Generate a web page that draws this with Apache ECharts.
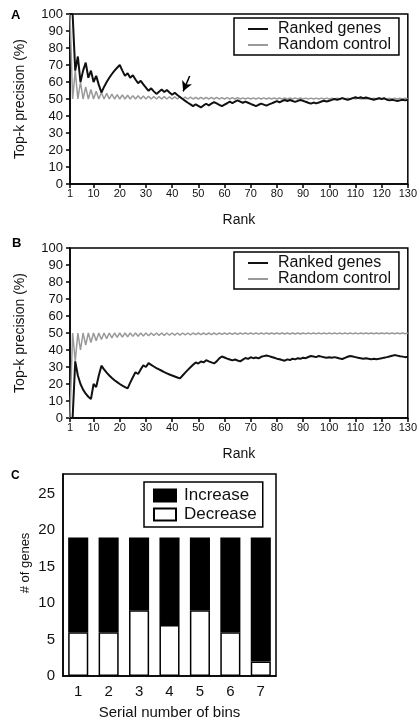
<!DOCTYPE html>
<html>
<head>
<meta charset="utf-8">
<script src="https://cdn.jsdelivr.net/npm/echarts@6/dist/echarts.min.js"></script>
<style>
  html,body{margin:0;padding:0;background:#fff;}
  #chart{width:420px;height:726px;}
</style>
</head>
<body>
<div id="chart"></div>
<script>
/* Top-k precision panels (A, B) and bin counts (C) */

// x tick labels for the rank axes
const rankTicks = [1,10,20,30,40,50,60,70,80,90,100,110,120,130];
const binTicks = [0,5,10,15,20,25];

// panel A, precision per rank 1..130
const rankedA = [
  100,100,66.7,75,60,66.7,71.4,62.5,66.7,60,
  63.6,58.3,53.8,57.1,60,62.5,64.7,66.7,68.4,70,
  66.7,63.6,65.2,62.5,64,61.5,59.3,60.7,58.6,56.7,
  54.8,56.3,54.5,53,54.3,55.6,54.1,55.3,53.8,52.5,
  53.7,52.4,51.2,50,48.9,47.8,46.8,45.8,46.9,46,
  45.1,46.2,47.2,46.3,47.3,48.2,47.4,46.6,45.8,46.7,
  47.5,48.4,47.6,48.4,49.2,48.5,47.8,48.5,47.8,47.1,
  46.5,45.8,46.6,47.3,46.7,46.1,46.8,47.4,48.1,48.8,
  48.1,48.8,49.4,48.8,49.4,48.8,48.3,48.9,49.4,48.9,
  48.4,47.8,47.3,47.9,47.4,47.9,48.5,49,48.5,49,
  49.5,50,49.5,50,50.5,50,49.5,50,50.5,51,
  50.5,51,50.4,50.9,50.4,50,49.6,50,50.4,50,
  50.4,49.6,49.2,49.6,49.2,48.8,49.2,49.6,49.2,49.6
];
const randomA = [
  100,50,66.7,50,60,50,57.1,50,55.6,50,
  54.5,50,53.8,50,53.3,50,52.9,50,52.6,50,
  52.4,50,52.2,50,52,50,51.9,50,51.7,50,
  51.6,50,51.5,50,51.4,50,51.4,50,51.3,50,
  51.2,50,51.2,50,51.1,50,51.1,50,51,50,
  51,50,50.9,50,50.9,50,50.9,50,50.8,50,
  50.8,50,50.8,50,50.8,50,50.7,50,50.7,50,
  50.7,50,50.7,50,50.7,50,50.6,50,50.6,50,
  50.6,50,50.6,50,50.6,50,50.6,50,50.6,50,
  50.5,50,50.5,50,50.5,50,50.5,50,50.5,50,
  50.5,50,50.5,50,50.5,50,50.5,50,50.5,50,
  50.5,50,50.4,50,50.4,50,50.4,50,50.4,50,
  50.4,50,50.4,50,50.4,50,50.4,50,50.4,50
];

// panel B, precision per rank 1..130
const rankedB = [
  0,0,33.3,25,20,16.7,14.3,12.5,11.1,20,
  18.2,25,30.8,28.6,26.7,25,23.5,22.2,21.1,20,
  19,18.2,17.4,20.8,24,26.9,25.9,28.6,31,30,
  32.3,31.3,30.3,29.4,28.6,27.8,27,26.3,25.6,25,
  24.4,23.8,23.3,25,26.7,28.3,29.8,31.3,32.7,32,
  33.3,32.7,34,33.3,32.7,32.1,33.3,35.1,36.2,35.6,
  34.9,34.4,33.9,34.4,33.8,33.3,34.3,35.3,34.8,35.7,
  35.2,35.6,35.1,36,36.4,36.8,36.4,35.9,35.4,34.9,
  34.6,34.1,33.7,34.5,34.1,34.9,34.5,35.2,34.8,35.5,
  35.2,35.9,36.5,36.2,35.8,36.5,36.1,35.7,35.4,35.7,
  35.5,35.8,35.4,35,34.7,35.4,36,36.5,36.2,35.8,
  35.4,35.1,34.8,35.2,34.8,34.5,34.9,34.6,34.8,35.1,
  35.5,35.8,36.2,36.6,37,36.7,36.3,36.1,35.8,36
];
const randomB = [
  0,50,33.3,50,40,50,42.9,50,44.4,50,
  45.5,50,46.2,50,46.7,50,47.1,50,47.4,50,
  47.6,50,47.8,50,48,50,48.1,50,48.3,50,
  48.4,50,48.5,50,48.6,50,48.6,50,48.7,50,
  48.8,50,48.8,50,48.9,50,48.9,50,49,50,
  49,50,49.1,50,49.1,50,49.1,50,49.2,50,
  49.2,50,49.2,50,49.2,50,49.3,50,49.3,50,
  49.3,50,49.3,50,49.3,50,49.4,50,49.4,50,
  49.4,50,49.4,50,49.4,50,49.4,50,49.4,50,
  49.5,50,49.5,50,49.5,50,49.5,50,49.5,50,
  49.5,50,49.5,50,49.5,50,49.5,50,49.5,50,
  49.5,50,49.6,50,49.6,50,49.6,50,49.6,50,
  49.6,50,49.6,50,49.6,50,49.6,50,49.6,50
];

// panel C
const bins = ["1","2","3","4","5","6","7"];
const increase = [13,13,10,12,10,13,17];
const decrease = [6,6,9,7,9,6,2];

// arrow in panel A (rank, precision)
const arrowFrom = [46.7, 63.5];
const arrowTo = [44.2, 54.5];

const FONT = "Liberation Sans, Arial, sans-serif";
const INK = "#111";

function toPairs(arr){
    return arr.map((v,i)=>[i+1,v]);
}

function rankAxis(grid){
    return {
        type:"value",
        gridIndex:grid,
        min:1,
        max:130,
        name:"Rank",
        nameLocation:"middle",
        nameGap:29,
        nameTextStyle:{fontSize:14,color:INK},
        axisLine:{lineStyle:{color:"#000",width:1.5}},
        axisTick:{customValues:rankTicks,length:4,lineStyle:{color:"#000",width:1.5}},
        axisLabel:{customValues:rankTicks,fontSize:11,color:INK,margin:4},
        splitLine:{show:false}
    };
}

function precisionAxis(grid){
    return {
        type:"value",
        gridIndex:grid,
        min:0,
        max:100,
        interval:10,
        name:"Top-k precision (%)",
        nameLocation:"middle",
        nameGap:43,
        nameTextStyle:{fontSize:14,color:INK},
        axisLine:{show:true,lineStyle:{color:"#000",width:1.5}},
        axisTick:{length:4,lineStyle:{color:"#000",width:1.5}},
        axisLabel:{fontSize:13,color:INK,margin:7},
        splitLine:{show:false}
    };
}

function lineLegend(top){
    return {
        data:["Ranked genes","Random control"],
        orient:"vertical",
        left:234,
        top:top,
        icon:"rect",
        itemWidth:20,
        itemHeight:2,
        itemGap:0,
        padding:[3,8,2,14],
        borderColor:"#000",
        borderWidth:1.5,
        selectedMode:false,
        textStyle:{fontSize:16,color:INK,lineHeight:16,padding:[0,0,0,5]}
    };
}

const chart = echarts.init(document.getElementById("chart"));

const option = {
    animation:false,
    textStyle:{fontFamily:FONT},
    title:[
        {text:"A",left:11,top:9,padding:0,textStyle:{fontSize:13,fontWeight:"bold",color:"#000"}},
        {text:"B",left:12,top:237,padding:0,textStyle:{fontSize:13,fontWeight:"bold",color:"#000"}},
        {text:"C",left:11,top:470,padding:0,textStyle:{fontSize:12,fontWeight:"bold",color:"#000"}}
    ],
    legend:[
        lineLegend(18),
        lineLegend(252),
        {
            data:["Increase","Decrease"],
            orient:"vertical",
            left:144,
            top:482,
            icon:"rect",
            itemWidth:22,
            itemHeight:12,
            itemGap:0,
            padding:[4,6,3,9],
            borderColor:"#000",
            borderWidth:1.5,
            selectedMode:false,
            textStyle:{fontSize:17,color:INK,lineHeight:19,padding:[0,0,0,3]}
        }
    ],
    grid:[
        {left:70,top:14,width:339,height:170,show:true,borderColor:"#000",borderWidth:1.5},
        {left:70,top:248,width:339,height:170,show:true,borderColor:"#000",borderWidth:1.5},
        {left:63,top:474,width:213,height:202,show:true,borderColor:"#000",borderWidth:1.5}
    ],
    xAxis:[
        rankAxis(0),
        rankAxis(1),
        {
            type:"category",
            gridIndex:2,
            data:bins,
            name:"Serial number of bins",
            nameLocation:"middle",
            nameGap:29,
            nameTextStyle:{fontSize:15,color:INK},
            axisLine:{lineStyle:{color:"#000",width:1.5}},
            axisTick:{alignWithLabel:true,length:4,lineStyle:{color:"#000",width:1.5}},
            axisLabel:{fontSize:15,color:INK,margin:8}
        }
    ],
    yAxis:[
        precisionAxis(0),
        precisionAxis(1),
        {
            type:"value",
            gridIndex:2,
            min:0,
            max:27.7,
            name:"# of genes",
            nameLocation:"middle",
            nameGap:31,
            nameMoveOverlap:false,
            nameTextStyle:{fontSize:13,color:INK,padding:[0,0,0,24]},
            axisLine:{show:true,lineStyle:{color:"#000",width:1.5}},
            axisTick:{customValues:binTicks,length:4,lineStyle:{color:"#000",width:1.5}},
            axisLabel:{customValues:binTicks,fontSize:15,color:INK,margin:8},
            splitLine:{show:false}
        }
    ],
    series:[
        {
            name:"Random control",
            type:"line",
            xAxisIndex:0,
            yAxisIndex:0,
            data:toPairs(randomA),
            symbol:"none",
            color:"#999",
            lineStyle:{width:1.5,color:"#999"}
        },
        {
            name:"Ranked genes",
            type:"line",
            xAxisIndex:0,
            yAxisIndex:0,
            data:toPairs(rankedA),
            symbol:"none",
            color:"#111",
            lineStyle:{width:2,color:"#111"},
            markLine:{
                silent:true,
                symbol:["none","arrow"],
                symbolSize:[8,10],
                label:{show:false},
                lineStyle:{color:"#000",width:1.5,type:"solid"},
                data:[[{coord:arrowFrom},{coord:arrowTo}]]
            }
        },
        {
            name:"Random control",
            type:"line",
            xAxisIndex:1,
            yAxisIndex:1,
            data:toPairs(randomB),
            symbol:"none",
            color:"#999",
            lineStyle:{width:1.5,color:"#999"}
        },
        {
            name:"Ranked genes",
            type:"line",
            xAxisIndex:1,
            yAxisIndex:1,
            data:toPairs(rankedB),
            symbol:"none",
            color:"#111",
            lineStyle:{width:2,color:"#111"}
        },
        {
            name:"Decrease",
            type:"bar",
            xAxisIndex:2,
            yAxisIndex:2,
            stack:"bins",
            barWidth:"66%",
            data:decrease,
            itemStyle:{color:"#fff",borderColor:"#000",borderWidth:1.5}
        },
        {
            name:"Increase",
            type:"bar",
            xAxisIndex:2,
            yAxisIndex:2,
            stack:"bins",
            barWidth:"66%",
            data:increase,
            itemStyle:{color:"#000",borderColor:"#000",borderWidth:1.5}
        }
    ]
};

chart.setOption(option);
</script>
</body>
</html>
